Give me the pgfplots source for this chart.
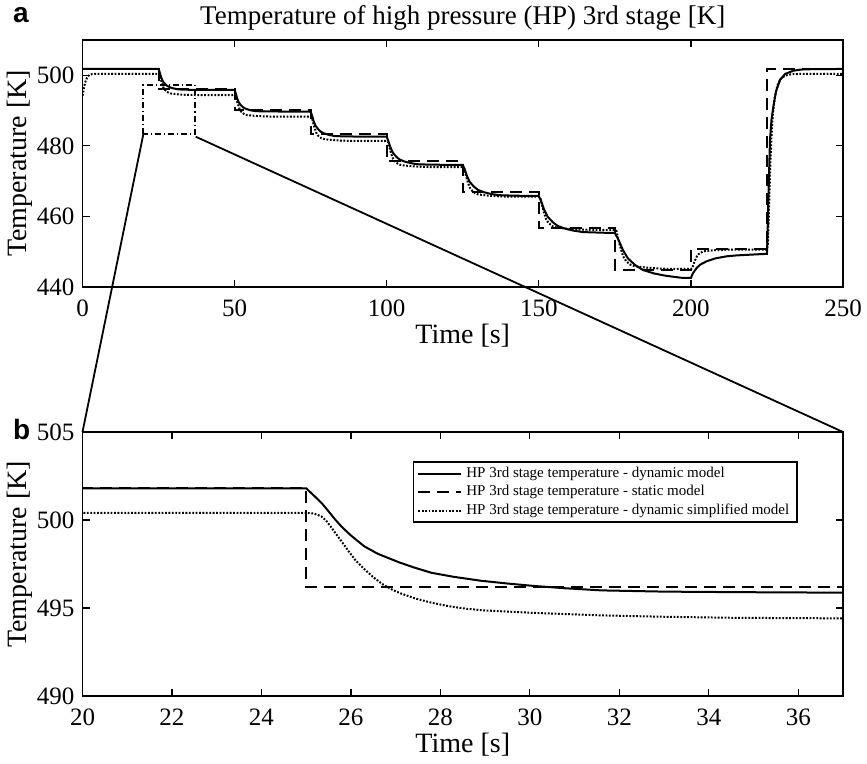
\documentclass[border=0pt]{standalone}
\usepackage{fontspec}
\setmainfont{Liberation Serif}
\newfontfamily\sansfnt{Liberation Sans}
\usepackage{pgfplots}
\usepackage{pgfplotstable}
\pgfplotsset{compat=1.18}

% HP 3rd stage temperature - dynamic model
\pgfplotstableread{
t T
0 501.8
25 501.8
25.1 501.56
25.2 501.32
25.35 500.95
25.5 500.49
25.65 500.02
25.8 499.6
26 499.12
26.3 498.5
26.6 498.08
27.07 497.6
27.4 497.31
27.8 497.0
28.3 496.77
28.9 496.55
29.5 496.39
30.1 496.25
30.8 496.12
31.6 496.0
33 495.93
34.6 495.9
37 495.87
50 495.85
50.35 494.97
50.8 493.57
51.3 492.44
52.07 491.51
52.8 490.89
53.9 490.43
55.1 490.11
56.6 489.85
59.6 489.75
75 489.7
75.42 488.68
75.96 487.07
76.56 485.76
77.5 484.69
78.4 483.97
79.7 483.44
81.1 483.08
82.9 482.78
86.5 482.66
100 482.6
100.5 481.46
101.2 479.64
101.95 478.16
103.1 476.95
104.2 476.14
105.9 475.54
107.7 475.14
109.9 474.8
114.4 474.66
125 474.6
125.63 473.34
126.44 471.34
127.34 469.72
128.73 468.39
130.04 467.50
132 466.84
134.2 466.39
136.9 466.02
142.3 465.87
150 465.8
150.77 464.3
151.76 461.92
152.86 459.97
154.55 458.39
156.16 457.33
158.6 456.54
161.2 456.0
164.5 455.56
171 455.38
175 455.3
176.16 453.44
177.64 450.49
179.3 448.09
181.8 446.12
184.2 444.83
187.9 443.83
191.8 443.17
196.8 442.62
200 442.55
200.5 443.6
201 444.3
201.9 445.4
203 446.3
205.2 447.3
208 448.1
211.8 448.7
215 448.95
219.4 449.15
225 449.4
225.2 455
225.4 462.8
226 481.7
226.5 487.5
227.1 491.1
228 495.5
229.3 498.7
231 500.4
233.7 501.3
236 501.6
238 501.7
250 501.8
}\dyn

% HP 3rd stage temperature - static model
\pgfplotstableread{
t T
0 501.8
25 501.8
25 496.2
50 496.2
50 490.2
75 490.2
75 483.3
100 483.3
100 475.6
125 475.6
125 466.8
150 466.8
150 456.8
175 456.8
175 444.9
200 444.9
200 450.8
225 450.8
225 501.8
250 501.8
}\stat

% HP 3rd stage temperature - dynamic simplified model
\pgfplotstableread{
t T
0 494.2
0.3 495.5
0.6 497.0
1.0 498.3
1.5 499.3
2.0 499.9
3 500.3
4 500.4
25 500.4
25.15 500.37
25.25 500.3
25.34 500.2
25.45 499.95
25.55 499.62
25.64 499.3
25.8 498.75
25.94 498.25
26.1 497.72
26.31 497.18
26.5 496.75
26.69 496.38
26.9 496.07
27.1 495.84
27.44 495.54
27.8 495.3
28.19 495.1
28.6 494.95
29 494.86
30.1 494.72
31.6 494.58
33 494.5
34.6 494.44
37 494.41
50 494.4
50.34 494.22
50.64 493.24
50.94 492.2
51.31 491.23
51.69 490.31
52.1 489.76
52.44 489.46
53.19 488.97
53.94 488.76
55.1 488.64
56.6 488.5
59.6 488.35
62 488.3
75 488.3
75.37 488.09
75.7 486.99
76.03 485.82
76.44 484.71
76.86 483.68
77.31 483.06
77.68 482.71
78.5 482.16
79.33 481.92
80.6 481.78
82.3 481.63
85.6 481.46
88.2 481.4
100 481.4
100.41 481.18
100.77 479.99
101.13 478.74
101.57 477.55
102.03 476.44
102.52 475.78
102.93 475.41
103.83 474.81
104.73 474.56
106.1 474.41
107.9 474.24
111.5 474.06
114.4 474.0
125 474.0
125.44 473.75
125.83 472.4
126.22 470.98
126.7 469.63
127.2 468.37
127.73 467.62
128.17 467.2
129.15 466.52
130.12 466.23
131.6 466.06
133.6 465.88
137.5 465.67
140.6 465.6
150 465.6
150.48 465.32
150.9 463.81
151.32 462.22
151.83 460.71
152.37 459.3
152.94 458.46
153.42 457.99
154.47 457.23
155.52 456.91
157.1 456.72
159.2 456.51
163.4 456.28
166.8 456.2
175 456.2
175.54 455.87
176.02 454.09
176.5 452.2
177.1 450.43
177.7 448.76
178.36 447.76
178.9 447.21
180.1 446.32
181.3 445.93
183.2 445.71
185.6 445.47
190.4 445.19
194.2 445.1
200 445.1
200.41 445.26
200.77 446.14
201.13 447.08
201.57 447.96
202.03 448.78
202.52 449.28
202.93 449.55
203.83 449.99
204.73 450.19
206.1 450.3
207.9 450.42
211.5 450.56
214.4 450.6
225 450.6
225.3 452
225.6 460
226 472
226.5 483
227 489.5
227.6 494
228.5 497.3
229.5 499
231 499.9
233 500.3
236 500.4
250 500.4
}\simp

\begin{document}
\begin{tikzpicture}
\path[use as bounding box] (0,0) rectangle (433.5pt,-382pt);
\pgfplotsset{
  myaxis/.style={
    scale only axis, width=380.25pt,
    axis line style={line width=0.8pt},
    tick align=inside, major tick length=3.5pt,
    every tick/.style={black, line width=0.6pt},
    tick label style={font=\fontsize{12.5}{14}\selectfont},
    label style={font=\fontsize{14}{16}\selectfont},
    /pgf/number format/assume math mode=true,
    xticklabel style={yshift=-3pt},
    yticklabel style={xshift=-0.5pt},
    xlabel style={at={(axis description cs:0.5,0)}, anchor=center, yshift=-24.5pt},
  },
  soli/.style={black, line width=1pt},
  dash/.style={black, line width=1pt, dash pattern=on 6pt off 3.5pt},
  dott/.style={black, line width=1pt, dash pattern=on 0.9pt off 0.8pt},
}

\node[font=\fontsize{13.5}{16}\selectfont] at (231.4pt,-8.75pt) {Temperature of high pressure (HP) 3rd stage [K]};
\node[anchor=base west, font=\sansfnt\bfseries\fontsize{14}{16}\selectfont, inner sep=0pt] at (6.4pt,-11.5pt) {a};
\node[anchor=base west, font=\sansfnt\bfseries\fontsize{14}{16}\selectfont, inner sep=0pt] at (6.4pt,-219.5pt) {b};

\begin{axis}[myaxis, at={(41.25pt,-20pt)}, anchor=north west, height=123.5pt,
  xmin=0, xmax=250, ymin=440, ymax=510,
  xtick={0,50,...,250}, ytick={440,460,480,500},
  xlabel={Time [s]}, ylabel={Temperature [K]},
  ylabel style={at={(axis description cs:-0.0822,0.5)}, anchor=center}]
\addplot[soli] table[x=t,y=T]{\dyn};
\addplot[dash] table[x=t,y=T]{\stat};
\addplot[dott] table[x=t,y=T]{\simp};
\draw[black, line width=0.9pt, dash pattern=on 3pt off 1.5pt on 0.6pt off 1.5pt] (axis cs:20,483.3) rectangle (axis cs:37,497.3);
\coordinate (zA) at (axis cs:20,483.3);
\coordinate (zB) at (axis cs:37.2,482.6);
\end{axis}

\begin{axis}[myaxis, at={(41.25pt,-216pt)}, anchor=north west, height=132pt,
  xmin=20, xmax=37, ymin=490, ymax=505,
  xtick={20,22,...,36}, ytick={490,495,500,505},
  xlabel={Time [s]}, ylabel={Temperature [K]},
  ylabel style={at={(axis description cs:-0.0822,0.537)}, anchor=center},
  legend cell align=left,
  legend style={at={(0.941,0.89)}, anchor=north east, draw=black, line width=0.9pt,
    font=\fontsize{7.5}{8.6}\selectfont, inner xsep=2pt, inner ysep=0.5pt, row sep=-1.5pt},
  legend image code/.code={\draw[#1] (0pt,0pt) -- (21.5pt,0pt);}]
\addplot[soli] table[x=t,y=T]{\dyn};
\addlegendentry{HP 3rd stage temperature - dynamic model}
\addplot[dash] table[x=t,y=T]{\stat};
\addlegendentry{HP 3rd stage temperature - static model}
\addplot[dott] table[x=t,y=T]{\simp};
\addlegendentry{HP 3rd stage temperature - dynamic simplified model\hspace{15pt}}
\coordinate (zC) at (axis cs:20,505);
\coordinate (zD) at (axis cs:37,505);
\end{axis}

\draw[black, line width=0.9pt] (zA) -- (zC);
\draw[black, line width=0.9pt] (zB) -- (zD);
\end{tikzpicture}
\end{document}
